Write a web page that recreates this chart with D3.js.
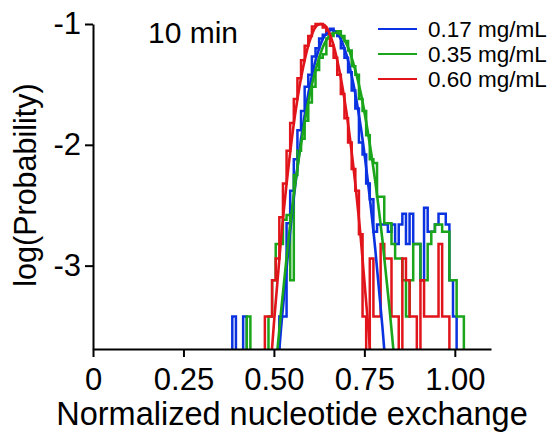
<!DOCTYPE html>
<html>
<head>
<meta charset="utf-8">
<script src="https://cdn.jsdelivr.net/npm/d3@7"></script>
<style>
  body { margin: 0; background: #fff; }
  svg text { font-family: "Liberation Sans", Arial, sans-serif; fill: #000; }
</style>
</head>
<body>
<svg id="chart" width="553" height="434"></svg>
<script>
// bins are 0.01 wide, first centre at 0.38
const binStart = 0.38;
const binWidth = 0.01;

// log10(probability) per bin, null = empty bin
const blueHist = [
  null, -3.42, null, null, -3.42, null, null, null, null, null,
  null, null, null, null, -3.42, -3.42, -2.65, -2.38, -2.12, -1.88,
  -1.72, -1.52, -1.42, -1.27, -1.20, -1.12, -1.09, -1.05, -1.04, -1.06,
  -1.10, -1.20, -1.28, -1.40, -1.55, -1.70, -1.98, -2.08, -2.32, -2.45,
  -2.72, -2.66, -2.66, -2.66, -2.72, -2.66, -2.82, -2.66, -2.57, -2.82,
  -2.57, -2.82, -2.82, -3.12, -2.52, -2.72, -2.72, -2.66, -2.57, -2.57,
  -2.66, -3.12, -3.42, null, null, null
];
const greenHist = [
  null, null, null, null, null, -3.42, null, null, null, null,
  null, -3.42, -3.12, -2.82, -2.82, -2.62, -2.58, -3.12, -2.25, -2.05,
  -1.95, -1.80, -1.65, -1.52, -1.38, -1.28, -1.25, -1.12, -1.10, -1.06,
  -1.06, -1.10, -1.14, -1.22, -1.35, -1.42, -1.62, -1.72, -1.92, -2.12,
  -2.15, -2.43, -2.43, -2.65, -2.65, -2.82, -2.94, -2.94, -3.12, -3.42,
  -3.12, -2.82, -2.82, -3.12, -3.12, -2.82, -2.72, -2.66, -2.66, -2.72,
  -2.72, -3.12, -3.12, -3.42, -3.42, null
];
const redHist = [
  null, null, null, null, null, null, null, null, null, null,
  -3.42, -3.42, -3.12, -2.94, -2.60, -2.32, -2.05, -1.82, -1.62, -1.45,
  -1.30, -1.18, -1.10, -1.02, -1.00, -1.00, -1.03, -1.08, -1.18, -1.28,
  -1.42, -1.58, -1.78, -1.98, -2.20, -2.38, -2.74, -3.42, null, -2.94,
  -3.42, -3.42, -2.82, -2.94, -2.94, -3.42, -3.42, null, -2.94, -3.12,
  -3.42, -3.42, null, -3.12, -3.42, -3.42, -3.42, -3.42, -2.82, -3.42,
  -3.42, null, null, null, null, null
];

// gaussian fits (log scale)
const blueFitX = [0.50, 0.52, 0.54, 0.56, 0.58, 0.60, 0.62, 0.64, 0.66, 0.68, 0.70, 0.72, 0.74, 0.76, 0.78, 0.80, 0.82];
const blueFitY = [-4.27, -3.51, -2.86, -2.31, -1.85, -1.50, -1.25, -1.10, -1.05, -1.10, -1.25, -1.50, -1.85, -2.31, -2.86, -3.51, -4.27];
const greenFitX = [0.50, 0.52, 0.54, 0.56, 0.58, 0.60, 0.62, 0.64, 0.66, 0.68, 0.70, 0.72, 0.74, 0.76, 0.78, 0.80, 0.82, 0.84];
const greenFitY = [-4.02, -3.37, -2.79, -2.30, -1.90, -1.57, -1.33, -1.16, -1.08, -1.08, -1.16, -1.33, -1.57, -1.90, -2.30, -2.79, -3.37, -4.02];
const redFitX = [0.48, 0.50, 0.52, 0.54, 0.56, 0.58, 0.60, 0.62, 0.64, 0.66, 0.68, 0.70, 0.72, 0.74, 0.76, 0.78];
const redFitY = [-4.30, -3.48, -2.77, -2.19, -1.72, -1.37, -1.13, -1.01, -1.01, -1.13, -1.37, -1.72, -2.19, -2.77, -3.48, -4.30];

const seriesNames = ["0.17 mg/mL", "0.35 mg/mL", "0.60 mg/mL"];
const seriesColors = ["#0a32e0", "#1aa51a", "#e0141a"];
const xTicks = [0, 0.25, 0.5, 0.75, 1.0];
const yTicks = [-1, -2, -3];

const svg = d3.select("#chart");

const x = d3.scaleLinear().domain([0, 1.1]).range([93, 491]);
const y = d3.scaleLinear().domain([-3.69, -1]).range([349, 24]);
const bottom = y.range()[0];

svg.append("clipPath").attr("id", "plot")
  .append("rect").attr("x", 93).attr("y", 0).attr("width", 400).attr("height", bottom);

const plot = svg.append("g").attr("clip-path", "url(#plot)");

// step outline, split where bins are empty
function histPath(vals) {
  let d = "";
  let open = false;
  vals.forEach((v, i) => {
    const x0 = x(binStart + (i - 0.5) * binWidth);
    const x1 = x(binStart + (i + 0.5) * binWidth);
    if (v == null) {
      if (open) { d += `L${x0},${bottom}`; open = false; }
      return;
    }
    if (!open) { d += `M${x0},${bottom}`; open = true; }
    d += `L${x0},${y(v)}L${x1},${y(v)}`;
  });
  if (open) {
    const xe = x(binStart + (vals.length - 0.5) * binWidth);
    d += `L${xe},${bottom}`;
  }
  return d;
}

const hists = [blueHist, greenHist, redHist];
const fits = [[blueFitX, blueFitY], [greenFitX, greenFitY], [redFitX, redFitY]];

const fitLine = d3.line()
  .x((d) => x(d[0]))
  .y((d) => y(d[1]))
  .curve(d3.curveCatmullRom);

hists.forEach((h, i) => {
  plot.append("path")
    .attr("d", histPath(h))
    .attr("fill", "none")
    .attr("stroke", seriesColors[i])
    .attr("stroke-width", 2.5)
    .attr("stroke-linejoin", "miter");
});

fits.forEach(([fx, fy], i) => {
  plot.append("path")
    .datum(fx.map((v, k) => [v, fy[k]]))
    .attr("d", fitLine)
    .attr("fill", "none")
    .attr("stroke", seriesColors[i])
    .attr("stroke-width", 2.6);
});

// axes
const xAxis = svg.append("g")
  .attr("transform", `translate(0,${bottom})`)
  .call(d3.axisBottom(x)
    .tickValues(xTicks)
    .tickFormat((d) => (d === 0 ? "0" : d3.format(".2f")(d)))
    .tickSize(8).tickSizeOuter(0).tickPadding(11));

const yAxis = svg.append("g")
  .attr("transform", "translate(93,0)")
  .call(d3.axisLeft(y)
    .tickValues(yTicks)
    .tickFormat((d) => String(d))
    .tickSize(8).tickSizeOuter(0).tickPadding(4));

[xAxis, yAxis].forEach((a) => {
  a.selectAll("path, line").attr("stroke", "#000").attr("stroke-width", 2);
  a.selectAll("text").style("font-size", "31px").attr("fill", "#000");
});

// titles
svg.append("text")
  .attr("x", 292).attr("y", 425)
  .attr("text-anchor", "middle")
  .style("font-size", "32.5px")
  .text("Normalized nucleotide exchange");

svg.append("text")
  .attr("transform", "translate(36,185) rotate(-90)")
  .attr("text-anchor", "middle")
  .style("font-size", "30.5px")
  .text("log(Probability)");

svg.append("text")
  .attr("x", 148).attr("y", 43)
  .style("font-size", "30px")
  .text("10 min");

// legend
const legend = svg.append("g");
seriesNames.forEach((name, i) => {
  const ly = 29 + i * 25;
  legend.append("line")
    .attr("x1", 378).attr("x2", 417)
    .attr("y1", ly).attr("y2", ly)
    .attr("stroke", seriesColors[i]).attr("stroke-width", 2);
  legend.append("text")
    .attr("x", 428).attr("y", ly + 8)
    .style("font-size", "22.5px")
    .text(name);
});
</script>
</body>
</html>
